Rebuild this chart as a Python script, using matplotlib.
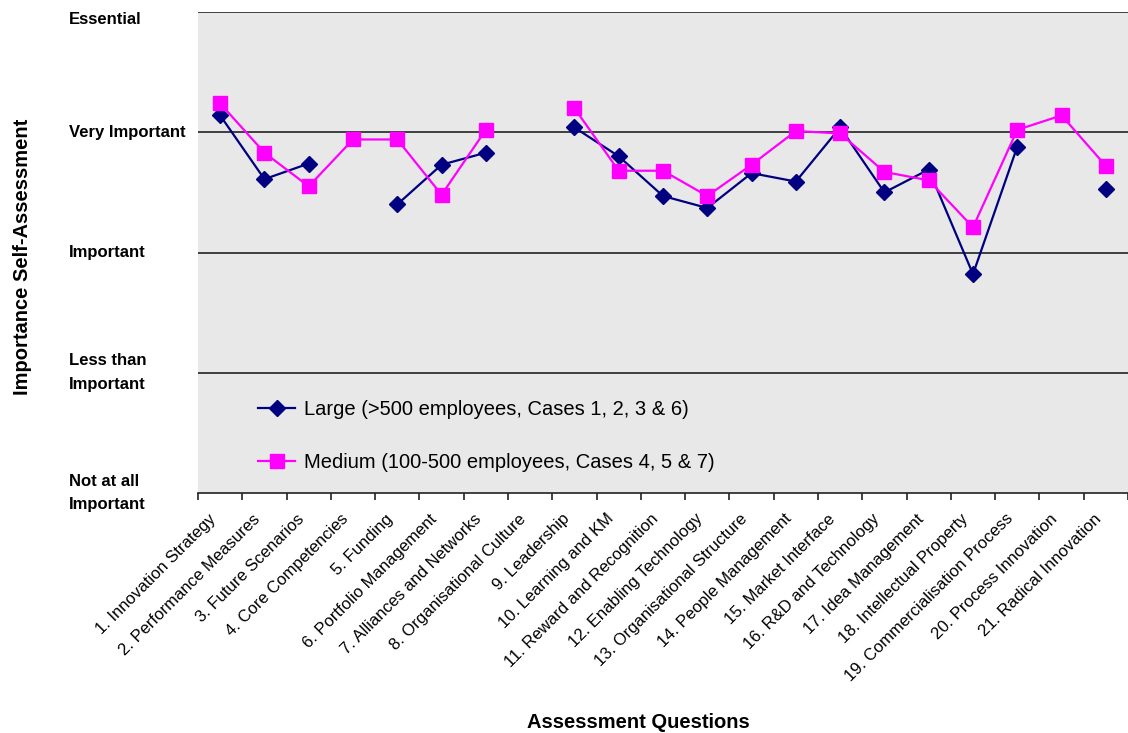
import numpy as np
import matplotlib
matplotlib.use("Agg")
import matplotlib.pyplot as plt
from matplotlib.transforms import blended_transform_factory, ScaledTranslation

plt.rcParams['font.family'] = ['Liberation Sans', 'DejaVu Sans']

# assessment questions (x categories)
questions = ["1. Innovation Strategy", "2. Performance Measures", "3. Future Scenarios",
             "4. Core Competencies", "5. Funding", "6. Portfolio Management",
             "7. Alliances and Networks", "8. Organisational Culture", "9. Leadership",
             "10. Learning and KM", "11. Reward and Recognition", "12. Enabling Technology",
             "13. Organisational Structure", "14. People Management", "15. Market Interface",
             "16. R&D and Technology", "17. Idea Management", "18. Intellectual Property",
             "19. Commercialisation Process", "20. Process Innovation", "21. Radical Innovation"]

# average self-assessment scores (nan = no answer)
largeScores = [4.14, 3.61, 3.74, np.nan, 3.40, 3.73, 3.83, np.nan, 4.04, 3.80, 3.47,
               3.37, 3.66, 3.59, 4.04, 3.50, 3.69, 2.82, 3.88, np.nan, 3.53]
mediumScores = [4.24, 3.83, 3.55, 3.94, 3.94, 3.48, 4.02, np.nan, 4.20, 3.68, 3.68,
                3.47, 3.73, 4.01, 3.99, 3.67, 3.60, 3.21, 4.02, 4.14, 3.72]

largeLabel = "Large (>500 employees, Cases 1, 2, 3 & 6)"
mediumLabel = "Medium (100-500 employees, Cases 4, 5 & 7)"

# importance scale labels
levelValues = [1, 2, 3, 4, 5]
levelNames = ["Not at all\nImportant", "Less than\nImportant", "Important",
              "Very Important", "Essential"]

fig = plt.figure(figsize=(11.28, 7.33), dpi=100)
ax = fig.add_axes([198 / 1128, 1 - 493 / 733, 930 / 1128, 481 / 733])
ax.set_facecolor("#e8e8e8")

xPos = np.arange(1, len(questions) + 1)

# horizontal grid lines at each level
for lvl in levelValues[1:]:
    ax.axhline(lvl, color="#222222", lw=1.2, zorder=1)

ax.plot(xPos, largeScores, color="#000080", lw=1.6, marker="D", markersize=8,
        label=largeLabel, zorder=3)
ax.plot(xPos, mediumScores, color="#ff00ff", lw=1.6, marker="s", markersize=10,
        label=mediumLabel, zorder=4)

ax.set_xlim(0.5, len(questions) + 0.5)
ax.set_ylim(1, 5)

# y axis - level names drawn as left aligned text at x = 69px
ax.set_yticks(levelValues)
ax.set_yticklabels([])
ax.tick_params(axis="y", length=0)
levelTrans = blended_transform_factory(fig.transFigure, ax.transData)
for val, name in zip(levelValues, levelNames):
    vAlign = "top" if val == 5 else "center"
    ax.text(69 / 1128, val, name, transform=levelTrans, ha="left", va=vAlign,
            fontsize=12, fontweight="bold", linespacing=1.75, clip_on=False)

# x axis - labels at centres, tick marks at boundaries
ax.set_xticks(xPos)
ax.set_xticklabels(questions, rotation=45, ha="right", va="center_baseline",
                   rotation_mode="anchor", fontsize=12)
ax.tick_params(axis="x", which="major", length=0, pad=14)
nudge = ScaledTranslation(-8 / 100, -3 / 100, fig.dpi_scale_trans)
for lbl in ax.get_xticklabels():
    lbl.set_transform(lbl.get_transform() + nudge)
ax.set_xticks(np.arange(0.5, len(questions) + 1, 1.0), minor=True)
ax.tick_params(axis="x", which="minor", length=5, width=1.2, color="#222222")

for side in ["left", "right", "top"]:
    ax.spines[side].set_visible(False)
ax.spines["bottom"].set_color("#222222")
ax.spines["bottom"].set_linewidth(1.2)

ax.set_ylabel("Importance Self-Assessment", fontsize=14.5, fontweight="bold")
ax.yaxis.set_label_coords(-0.179, 0.49)
fig.text(638 / 1128, 1 - 723 / 733, "Assessment Questions", fontsize=14.5,
         fontweight="bold", ha="center", va="center")

leg = ax.legend(loc="center left", bbox_to_anchor=(0.065, 0.1185), frameon=False,
                fontsize=14.5, labelspacing=1.65, handlelength=1.8, handletextpad=0.45,
                borderpad=0, borderaxespad=0)

fig.savefig("out.png", dpi=100)
